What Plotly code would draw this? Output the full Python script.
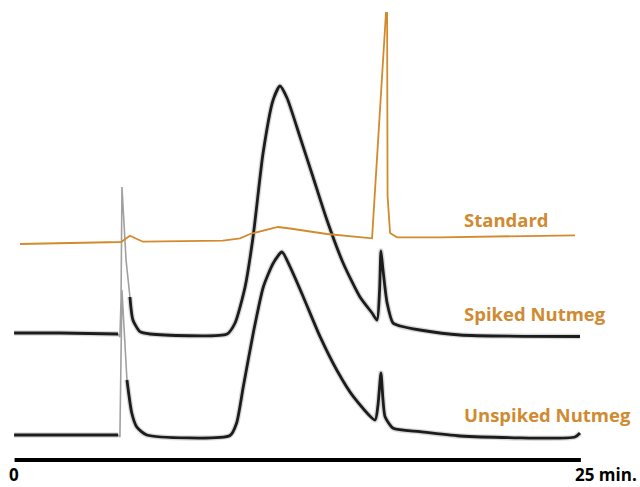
import plotly.graph_objects as go

# Retention time (min) and detector response (arbitrary units, traces offset vertically)
std_time = [0.44, 4.74, 4.87, 5.26, 5.57, 5.83, 9.34, 10.09, 10.53, 11.75, 12.28, 13.90,
            15.88, 16.49, 16.54, 16.56, 16.67, 16.97, 18.86, 24.78]
std_resp = [216, 217.5, 218, 224.3, 221, 218.3, 219.3, 221.7, 226, 233, 231.5, 226,
            221.7, 447, 447, 264, 227, 222.7, 222.7, 224.7]

spk_time = [0.18, 2.19, 4.74, 4.82, 4.87, 4.91, 4.98, 5.09, 5.26, 5.39, 5.70, 6.14, 9.52,
            9.87, 10.31, 10.66, 11.10, 11.54, 11.84, 12.15, 12.72, 13.29, 13.90, 14.61,
            15.35, 15.88, 16.10, 16.21, 16.27, 16.36, 16.54, 16.80, 17.11, 17.98, 19.74, 25.0]
spk_resp = [127, 127, 126, 123, 160, 273, 245, 200, 163, 140, 128.3, 126, 126,
            137, 173, 223, 307, 360, 374, 362, 323, 283, 240, 197,
            163, 147, 140, 170, 209, 190, 157, 137, 134, 130, 125, 123.5]

unspk_time = [0.18, 4.74, 4.82, 4.91, 5.00, 5.13, 5.34, 5.56, 6.0, 9.65, 9.94, 10.23,
              10.67, 11.11, 11.55, 11.93, 12.28, 12.86, 13.60, 14.33, 15.06, 16.01,
              16.14, 16.27, 16.36, 16.45, 16.81, 17.98, 19.74, 24.78, 25.0]
unspk_resp = [25, 25, 23, 170, 130, 80, 47, 33, 25, 24.5, 37, 73,
              127, 173, 197, 208, 193.3, 163.3, 123.3, 90, 63.3, 40,
              55, 87, 60, 43.3, 31.7, 28.3, 24, 23, 27]

labels = ["Standard", "Spiked Nutmeg", "Unspiked Nutmeg"]
label_resp = [241, 147, 46]
axis_labels = ["0", "25 min."]
axis_start, axis_end = 0.2, 25.04

ORANGE = "#D38A2C"
TEXT_ORANGE = "#D08A30"
BLACK = "#1c1c1c"
FONT = "Open Sans"

fig = go.Figure()


def split(times, resp, lo, hi):
    """Return (main, fast) series: fast part (steep spike) drawn lighter."""
    main_y = [None if lo < t < hi else r for t, r in zip(times, resp)]
    fx = [t for t in times if lo <= t <= hi]
    fy = [r for t, r in zip(times, resp) if lo <= t <= hi]
    return main_y, fx, fy


for times, resp, lo, hi in [(spk_time, spk_resp, 4.74, 5.26), (unspk_time, unspk_resp, 4.74, 5.13)]:
    main_y, fx, fy = split(times, resp, lo, hi)
    fig.add_trace(go.Scatter(x=fx, y=fy, mode="lines",
                             line=dict(color="#a0a0a0", width=1.6), hoverinfo="skip"))
    fig.add_trace(go.Scatter(x=times, y=main_y, mode="lines",
                             line=dict(color="rgba(0,0,0,0.15)", width=5.5, shape="spline", smoothing=0.6),
                             connectgaps=False, hoverinfo="skip"))
    fig.add_trace(go.Scatter(x=times, y=main_y, mode="lines",
                             line=dict(color=BLACK, width=2.8, shape="spline", smoothing=0.6),
                             connectgaps=False))

fig.add_trace(go.Scatter(x=std_time, y=std_resp, mode="lines",
                         line=dict(color=ORANGE, width=1.8)))

# baseline time axis
fig.add_shape(type="line", xref="x", yref="y", x0=axis_start, x1=axis_end, y0=0, y1=0,
              line=dict(color="black", width=4))

for txt, yv in zip(labels, label_resp):
    fig.add_annotation(x=19.82, y=yv, text=txt, showarrow=False, xanchor="left", yanchor="middle",
                       font=dict(family=FONT, size=18.5, color=TEXT_ORANGE, weight="bold"))

fig.add_annotation(x=0.18, xref="x", y=0, yref="paper", text=axis_labels[0], showarrow=False,
                   xanchor="center", yanchor="bottom", borderpad=0,
                   font=dict(family=FONT, size=17, color="black", weight="bold"))
fig.add_annotation(x=27.55, xref="x", y=0, yref="paper", text=axis_labels[1], showarrow=False,
                   xanchor="right", yanchor="bottom", borderpad=0,
                   font=dict(family=FONT, size=17, color="black", weight="bold"))

fig.update_layout(
    width=640, height=487, margin=dict(l=0, r=0, t=0, b=0),
    paper_bgcolor="white", plot_bgcolor="white", showlegend=False,
    xaxis=dict(range=[-0.4386, 27.6316], visible=False, fixedrange=True),
    yaxis=dict(range=[-27, 460], visible=False, fixedrange=True),
)

fig.write_html("out.html", config={"displayModeBar": False},
               post_script="document.body.style.margin='0';")
